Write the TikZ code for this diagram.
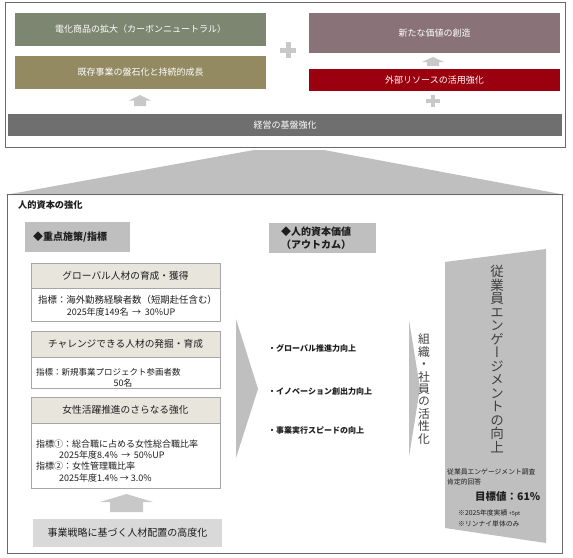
\documentclass[tikz,border=0pt]{standalone}
\usepackage{fontspec}
\setmainfont{Noto Sans CJK JP}
\newfontfamily\jpv{Noto Sans CJK JP}[RawFeature=+vert]
\usetikzlibrary{calc}
\definecolor{cgreen}{HTML}{7D8670}
\definecolor{colive}{HTML}{938A62}
\definecolor{cmauve}{HTML}{8A7378}
\definecolor{cred}{HTML}{9B000E}
\definecolor{cdark}{HTML}{6F6F6F}
\definecolor{cgray}{HTML}{BFBFBF}
\definecolor{clight}{HTML}{D9D9D9}
\definecolor{cplus}{HTML}{C8C8C8}
\definecolor{cframe}{HTML}{6A6A6A}
\definecolor{ccard}{HTML}{A6A6A6}
\definecolor{chead}{HTML}{E7E5DC}
\definecolor{ctext}{HTML}{1E1E1E}
\newcommand\fsz[2]{\fontsize{#1}{#2}\selectfont}
\newcommand\blockup[6]{%
  \fill[cplus] (#1,#2) -- (#1+#5,#3) -- (#1+#6,#3) -- (#1+#6,#4) -- (#1-#6,#4) -- (#1-#6,#3) -- (#1-#5,#3) -- cycle;}
\begin{document}
\begin{tikzpicture}[x=1pt,y=-1pt,
  topbox/.style={minimum width=251pt, inner sep=0pt, text=white, font=\fsz{9}{11}},
  plusmark/.style={draw=cplus, line width=5pt},
  cardframe/.style={draw=ccard, fill=white, line width=0.6pt},
  cardhead/.style={draw=ccard, fill=chead, line width=0.6pt},
  headtext/.style={text=ctext, font=\fsz{9.7}{11}, inner sep=0pt},
  bodytext/.style={text=ctext, font=\fsz{9}{11}, inner sep=0pt},
  bullettext/.style={text=ctext, font=\bfseries\fsz{8}{10}, inner sep=0pt, anchor=west},
  smalltext/.style={text=ctext, font=\fsz{6.8}{8}, inner sep=0pt, anchor=west}]
\useasboundingbox (0,0) rectangle (573,557);
\fill[white] (0,0) rectangle (573,557);

% ---------- top panel ----------
\draw[cframe, line width=0.8pt] (5,2.5) rectangle (565,147);
\node[topbox, fill=cgreen, minimum height=33pt] (denka) at (140.5,29.5) {電化商品の拡大（カーボンニュートラル）};
\node[topbox, fill=colive, minimum height=33pt] (kizon) at (140.5,72.5) {既存事業の盤石化と持続的成長};
\node[topbox, fill=cmauve, minimum height=40pt] (kachi) at (434.5,33) {新たな価値の創造};
\node[topbox, fill=cred, minimum height=22pt] (gaibu) at (434.5,80) {外部リソースの活用強化};
\node[fill=cdark, minimum width=554pt, minimum height=22pt, inner sep=0pt, text=white, font=\fsz{9}{11}] (kiban) at (285,125) {経営の基盤強化};
\blockup{140}{95}{100.5}{106}{11}{6}
\blockup{433}{57}{62}{66}{11}{6}
\draw[plusmark] (280,50) -- (296,50) (288,42) -- (288,58);
\draw[cplus, line width=4pt] (426,101) -- (440,101) (433,95) -- (433,107);

% ---------- funnel ----------
\fill[cgray] (254,150) -- (324,150) -- (566,195) -- (5,195) -- cycle;

% ---------- lower panel ----------
\draw[cframe, line width=0.8pt] (7,194.5) rectangle (562,553);
\node[anchor=west, inner sep=0pt, text=ctext, font=\bfseries\fsz{9.2}{11}] (title) at (18,205) {人的資本の強化};

\fill[cgray] (25,222) rectangle (130,252);
\node[anchor=west, inner sep=0pt, text=ctext, font=\bfseries\fsz{10}{11}] (juten) at (33,237) {◆重点施策/指標};

\fill[cgray] (269,223) rectangle (376,253);
\node[align=center, inner sep=0pt, text=ctext, font=\bfseries\fsz{10}{12.5}] (outcome) at (316,238) {◆人的資本価値\\（アウトカム）};

% card 1
\draw[cardframe] (31,263) rectangle (220,321);
\draw[cardhead] (31,263) rectangle (220,288);
\node[headtext] (h1) at (125.5,275.5) {グローバル人材の育成・獲得};
\node[bodytext, font=\fsz{9.4}{11}, anchor=west] (b1a) at (38,300) {指標：海外勤務経験者数（短期赴任含む）};
\node[bodytext] (b1b) at (121,312) {2025年度149名 \,→\, 30\%UP};

% card 2
\draw[cardframe] (31,331) rectangle (220,388);
\draw[cardhead] (31,331) rectangle (220,357);
\node[headtext] (h2) at (125.5,344) {チャレンジできる人材の発掘・育成};
\node[bodytext, font=\fsz{8.5}{11}, anchor=west] (b2a) at (36,372) {指標：新規事業プロジェクト参画者数};
\node[bodytext] (b2b) at (123,383) {50名};

% card 3
\draw[cardframe] (31,397) rectangle (220,488);
\draw[cardhead] (31,397) rectangle (220,423);
\node[headtext] (h3) at (125.5,410) {女性活躍推進のさらなる強化};
\node[bodytext, anchor=west] (b3a) at (36,444) {指標①：総合職に占める女性総合職比率};
\node[bodytext, anchor=west] (b3b) at (59,455) {2025年度8.4\% \,→\, 50\%UP};
\node[bodytext, anchor=west] (b3c) at (36,466.5) {指標②：女性管理職比率};
\node[bodytext, anchor=west] (b3d) at (59,478.5) {2025年度1.4\% → 3.0\%};

\blockup{126.5}{494}{502}{512}{26.5}{16.5}
\node[fill=clight, minimum width=189pt, minimum height=28pt, inner sep=0pt, text=ctext, font=\fsz{10}{11}] (haichi) at (127.5,533) {事業戦略に基づく人材配置の高度化};

% big chevron and outcomes
\fill[cgray] (236,319) -- (258,389) -- (236,458) -- cycle;
\node[bullettext] (o1) at (268,348) {・グローバル推進力向上};
\node[bullettext] (o2) at (268,391) {・イノベーション創出力向上};
\node[bullettext] (o3) at (268,430) {・事業実行スピードの向上};

% small chevron
\fill[cgray] (409,320) -- (420,388) -- (409,457) -- cycle;
\node[align=center, inner sep=0pt, text=ctext!85, font=\jpv\fsz{11.8}{12.4}] (kassei) at (424,389) {組\\織\\・\\社\\員\\の\\活\\性\\化};

% engagement panel
\fill[cgray] (445,262) -- (546,249) -- (546,543) -- (445,528) -- cycle;
\node[align=center, inner sep=0pt, text=ctext!85, font=\jpv\fsz{13.5}{13.5}] (engage) at (497,359) {従\\業\\員\\エ\\ン\\ゲ\\ー\\ジ\\メ\\ン\\ト\\の\\向\\上};
\node[smalltext] (e1) at (447,472) {従業員エンゲージメント調査};
\node[smalltext] (e2) at (447,482) {肯定的回答};
\node[anchor=west, inner sep=0pt, text=ctext, font=\bfseries\fsz{10.5}{12}] (e3) at (475,497) {目標値：61\%};
\node[smalltext] (e4) at (458,513) {※2025年度実績 {\fsz{5.5}{6}+5pt}};
\node[smalltext] (e5) at (458,523.5) {※リンナイ単体のみ};
\end{tikzpicture}
\end{document}
